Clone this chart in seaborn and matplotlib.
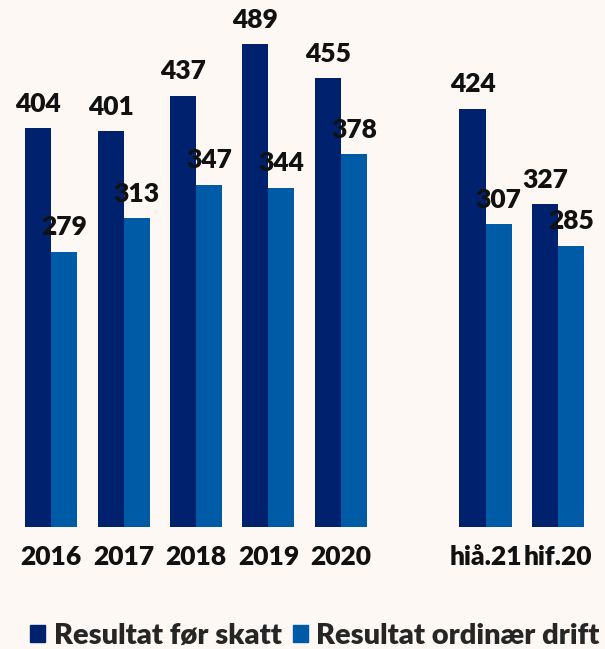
import matplotlib.pyplot as plt
import seaborn as sns
import pandas as pd

# --- data ---
periods = ["2016", "2017", "2018", "2019", "2020", " ", "hiå.21", "hif.20"]
value_periods = ["2016", "2017", "2018", "2019", "2020", "hiå.21", "hif.20"]
resultat_for_skatt = [404, 401, 437, 489, 455, 424, 327]
resultat_ordinaer = [279, 313, 347, 344, 378, 307, 285]
series = ["Resultat før skatt", "Resultat ordinær drift"]

BG = "#fdf8f4"
COLORS = ["#00216e", "#005ba6"]

df = pd.DataFrame({
    "periode": value_periods * 2,
    "serie": [series[0]] * len(value_periods) + [series[1]] * len(value_periods),
    "verdi": resultat_for_skatt + resultat_ordinaer,
})

sns.set_style("white")
plt.rcParams["font.family"] = ["Lato", "DejaVu Sans"]

fig = plt.figure(figsize=(6.05, 6.49), dpi=100, facecolor=BG)
ax = fig.add_axes([0.025, 1 - 527 / 649, 0.957, (527 - 5) / 649])
ax.set_facecolor(BG)

sns.barplot(data=df, x="periode", y="verdi", hue="serie", order=periods,
            hue_order=series, palette=COLORS, width=0.72, saturation=1,
            edgecolor="none", ax=ax, legend=False)

for cont in ax.containers:
    ax.bar_label(cont, fmt="%.0f", padding=9, fontsize=19, fontweight="heavy",
                 color="#111111")

ax.set_xlim(-0.5, 7.5)
ax.set_ylim(0, 529)
ax.set_xlabel("")
ax.set_ylabel("")
ax.set_yticks([])
ax.tick_params(axis="x", length=0, pad=13)
for lbl in ax.get_xticklabels():
    lbl.set_fontsize(19)
    lbl.set_fontweight("heavy")
    lbl.set_color("#111111")
sns.despine(ax=ax, left=True, bottom=True)

handles = [plt.Rectangle((0, 0), 1, 1, color=c) for c in COLORS]
fig.legend(handles, series, loc="center left", bbox_to_anchor=(0.05, 1 - 636 / 649),
           ncol=2, frameon=False, handlelength=0.5, handleheight=0.5,
           handletextpad=0.3, columnspacing=0.4, borderpad=0, borderaxespad=0,
           prop={"size": 21, "weight": "heavy"})

fig.savefig("out.png", dpi=100, facecolor=BG)
